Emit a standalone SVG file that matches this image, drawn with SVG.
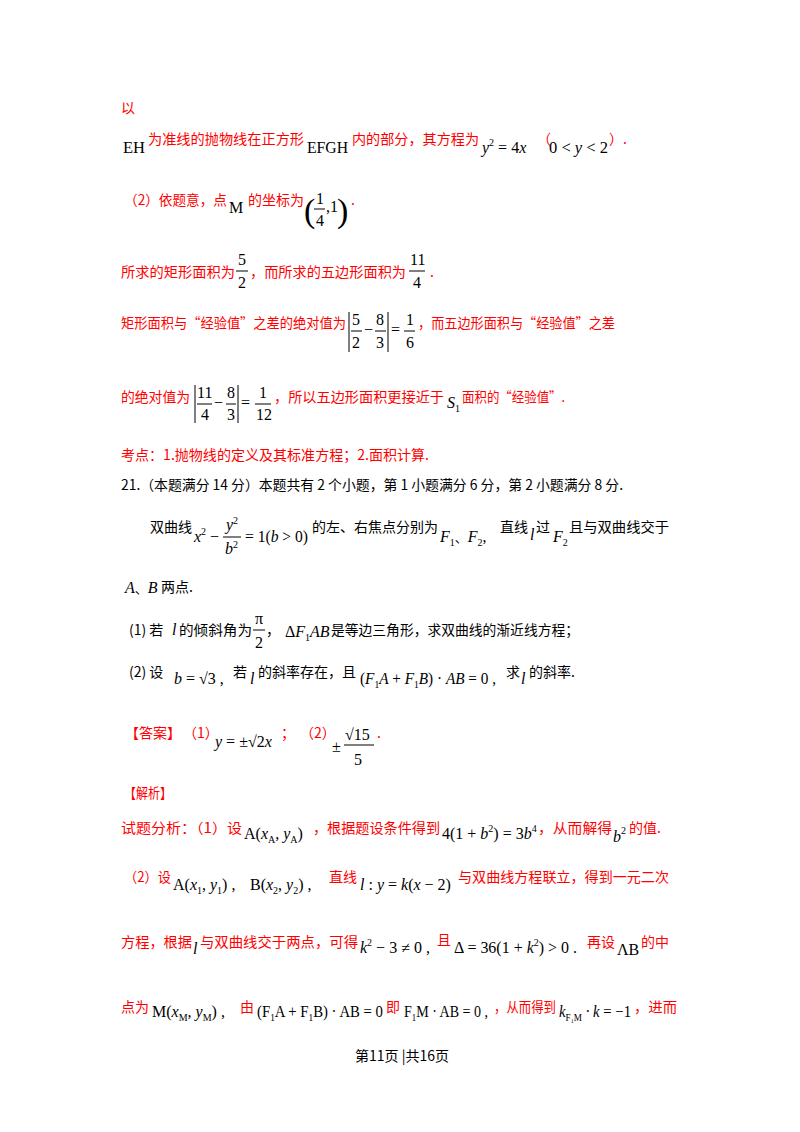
<svg xmlns="http://www.w3.org/2000/svg" width="800" height="1132" viewBox="0 0 800 1132">
<style>
.r{fill:#ff0000;font-family:"Noto Sans CJK SC","Noto Sans",sans-serif;font-size:14px}
.b{fill:#000;font-family:"Noto Sans CJK SC","Noto Sans",sans-serif;font-size:14px}
.m{fill:#000;font-family:"Liberation Serif",serif;font-size:16px}
.i{fill:#000;font-family:"Liberation Serif",serif;font-size:16px;font-style:italic}
.s{font-size:10px}
line{stroke:#000;stroke-width:1}
</style>
<rect width="800" height="1132" fill="#fff"/>
<text class="r" x="121" y="113">以</text>
<text class="m" x="123" y="153" textLength="22" lengthAdjust="spacingAndGlyphs">EH</text>
<text class="r" x="148" y="144" textLength="156" lengthAdjust="spacingAndGlyphs">为准线的抛物线在正方形</text>
<text class="m" x="307" y="153" textLength="41" lengthAdjust="spacingAndGlyphs">EFGH</text>
<text class="r" x="352" y="144" textLength="127" lengthAdjust="spacingAndGlyphs">内的部分，其方程为</text>
<text class="i" x="482" y="153">y<tspan class="s" dy="-7" font-style="normal">2</tspan><tspan dy="7" font-style="normal"> = 4</tspan>x</text>
<text class="r" x="537" y="144">（</text>
<text class="m" x="549" y="153" textLength="59" lengthAdjust="spacingAndGlyphs">0 &lt; <tspan font-style="italic">y</tspan> &lt; 2</text>
<text class="r" x="609" y="144">）.</text>

<text class="r" x="124" y="205" textLength="103" lengthAdjust="spacingAndGlyphs">（2）依题意，点</text>
<text class="m" x="229" y="213">M</text>
<text class="r" x="248" y="205" textLength="56" lengthAdjust="spacingAndGlyphs">的坐标为</text>
<text class="m" x="304" y="222" style="font-size:34px">(</text>
<text class="m" x="316" y="204">1</text><line x1="314" y1="209" x2="325" y2="209"/><text class="m" x="316" y="226">4</text>
<text class="m" x="326" y="212">,1</text>
<text class="m" x="337" y="222" style="font-size:34px">)</text>
<text class="r" x="351" y="205">.</text>

<text class="r" x="121" y="277" textLength="114" lengthAdjust="spacingAndGlyphs">所求的矩形面积为</text>
<text class="m" x="238" y="265">5</text><line x1="236" y1="271" x2="248" y2="271"/><text class="m" x="238" y="288">2</text>
<text class="r" x="250" y="277" textLength="156" lengthAdjust="spacingAndGlyphs">，而所求的五边形面积为</text>
<text class="m" x="410" y="265">11</text><line x1="409" y1="271" x2="425" y2="271"/><text class="m" x="413" y="288">4</text>
<text class="r" x="430" y="277">.</text>

<text class="r" x="121" y="328" textLength="225" lengthAdjust="spacingAndGlyphs">矩形面积与“经验值”之差的绝对值为</text>
<line x1="349" y1="312" x2="349" y2="352"/>
<text class="m" x="352" y="325">5</text><line x1="351" y1="331" x2="362" y2="331"/><text class="m" x="352" y="348">2</text>
<text class="m" x="364" y="335">−</text>
<text class="m" x="376" y="325">8</text><line x1="375" y1="331" x2="386" y2="331"/><text class="m" x="376" y="348">3</text>
<line x1="388" y1="312" x2="388" y2="352"/>
<text class="m" x="391" y="335">=</text>
<text class="m" x="406" y="325">1</text><line x1="404" y1="331" x2="415" y2="331"/><text class="m" x="406" y="348">6</text>
<text class="r" x="418" y="328" textLength="197" lengthAdjust="spacingAndGlyphs">，而五边形面积与“经验值”之差</text>

<text class="r" x="121" y="402" textLength="69" lengthAdjust="spacingAndGlyphs">的绝对值为</text>
<line x1="195" y1="385" x2="195" y2="423"/>
<text class="m" x="197" y="398">11</text><line x1="197" y1="404" x2="212" y2="404"/><text class="m" x="201" y="420">4</text>
<text class="m" x="214" y="408">−</text>
<text class="m" x="227" y="398">8</text><line x1="226" y1="404" x2="236" y2="404"/><text class="m" x="227" y="420">3</text>
<line x1="238" y1="385" x2="238" y2="423"/>
<text class="m" x="241" y="408">=</text>
<text class="m" x="259" y="398">1</text><line x1="255" y1="404" x2="271" y2="404"/><text class="m" x="256" y="420">12</text>
<text class="r" x="274" y="402" textLength="170" lengthAdjust="spacingAndGlyphs">，所以五边形面积更接近于</text>
<text class="i" x="447" y="408">S<tspan class="s" dy="4" font-style="normal">1</tspan></text>
<text class="r" x="462" y="402" textLength="103" lengthAdjust="spacingAndGlyphs">面积的“经验值”.</text>

<text class="r" x="121" y="460" textLength="308" lengthAdjust="spacingAndGlyphs">考点：1.抛物线的定义及其标准方程；2.面积计算.</text>
<text class="b" x="121" y="490" textLength="502" lengthAdjust="spacingAndGlyphs">21.（本题满分 14 分）本题共有 2 个小题，第 1 小题满分 6 分，第 2 小题满分 8 分.</text>

<text class="b" x="150" y="532" textLength="42" lengthAdjust="spacingAndGlyphs">双曲线</text>
<text class="i" x="194" y="542">x<tspan class="s" dy="-7" font-style="normal">2</tspan><tspan dy="7" font-style="normal"> −</tspan></text>
<text class="i" x="226" y="530">y<tspan class="s" dy="-6" font-style="normal">2</tspan></text><line x1="223" y1="537" x2="241" y2="537"/><text class="i" x="225" y="554">b<tspan class="s" dy="-6" font-style="normal">2</tspan></text>
<text class="m" x="245" y="542" textLength="63" lengthAdjust="spacingAndGlyphs">= 1(<tspan font-style="italic">b</tspan> &gt; 0)</text>
<text class="b" x="312" y="532" textLength="126" lengthAdjust="spacingAndGlyphs">的左、右焦点分别为</text>
<text class="i" x="440" y="542">F<tspan class="s" dy="4" font-style="normal">1</tspan><tspan dy="-4" font-style="normal" font-family="Noto Sans CJK SC" font-size="13">、</tspan>F<tspan class="s" dy="4" font-style="normal">2</tspan><tspan dy="-4" font-style="normal">,</tspan></text>
<text class="b" x="500" y="532">直线</text>
<text class="i" x="530" y="540">l</text>
<text class="b" x="536" y="532">过</text>
<text class="i" x="553" y="542">F<tspan class="s" dy="4" font-style="normal">2</tspan></text>
<text class="b" x="569" y="532" textLength="100" lengthAdjust="spacingAndGlyphs">且与双曲线交于</text>

<text class="i" x="125" y="593">A<tspan font-style="normal" font-family="Noto Sans CJK SC" font-size="13">、</tspan>B</text>
<text class="b" x="161" y="592">两点.</text>

<text class="b" x="129" y="635">(1) 若</text>
<text class="i" x="172" y="635">l</text>
<text class="b" x="179" y="635" textLength="73" lengthAdjust="spacingAndGlyphs">的倾斜角为</text>
<text class="m" x="255" y="624">π</text><line x1="253" y1="630" x2="265" y2="630"/><text class="m" x="255" y="648">2</text>
<text class="b" x="266" y="635">，</text>
<text class="m" x="285" y="637">Δ<tspan font-style="italic">F</tspan><tspan class="s" dy="4">1</tspan><tspan dy="-4" font-style="italic">AB</tspan></text>
<text class="b" x="331" y="635" textLength="248" lengthAdjust="spacingAndGlyphs">是等边三角形，求双曲线的渐近线方程；</text>

<text class="b" x="129" y="677">(2) 设</text>
<text class="i" x="174" y="684">b<tspan font-style="normal"> = √3 ,</tspan></text>
<text class="b" x="233" y="677">若</text>
<text class="i" x="250" y="684">l</text>
<text class="b" x="258" y="677" textLength="98" lengthAdjust="spacingAndGlyphs">的斜率存在，且</text>
<text class="m" x="360" y="684" textLength="136" lengthAdjust="spacingAndGlyphs">(<tspan font-style="italic">F</tspan><tspan class="s" dy="4">1</tspan><tspan dy="-4" font-style="italic">A</tspan> + <tspan font-style="italic">F</tspan><tspan class="s" dy="4">1</tspan><tspan dy="-4" font-style="italic">B</tspan>) · <tspan font-style="italic">AB</tspan> = 0 ,</text>
<text class="b" x="506" y="677">求</text>
<text class="i" x="521" y="684">l</text>
<text class="b" x="529" y="677">的斜率.</text>

<text class="r" x="125" y="738" textLength="56" lengthAdjust="spacingAndGlyphs">【答案】</text>
<text class="r" x="183" y="738">（1）</text>
<text class="i" x="215" y="747">y<tspan font-style="normal"> = ±√2</tspan>x</text>
<text class="r" x="281" y="738">；</text>
<text class="r" x="300" y="738">（2）</text>
<text class="m" x="332" y="752">±</text>
<text class="m" x="345" y="740">√15</text><line x1="344" y1="745" x2="374" y2="745"/><text class="m" x="354" y="765">5</text>
<text class="r" x="377" y="738">.</text>

<text class="r" x="124" y="798" textLength="48" lengthAdjust="spacingAndGlyphs">【解析】</text>

<text class="r" x="121" y="833" textLength="121" lengthAdjust="spacingAndGlyphs">试题分析：（1）设</text>
<text class="m" x="244" y="839">A(<tspan font-style="italic">x</tspan><tspan class="s" dy="4">A</tspan><tspan dy="-4">, </tspan><tspan font-style="italic">y</tspan><tspan class="s" dy="4">A</tspan><tspan dy="-4">)</tspan></text>
<text class="r" x="313" y="833" textLength="127" lengthAdjust="spacingAndGlyphs">，根据题设条件得到</text>
<text class="m" x="442" y="839">4(1 + <tspan font-style="italic">b</tspan><tspan class="s" dy="-7">2</tspan><tspan dy="7">) = 3</tspan><tspan font-style="italic">b</tspan><tspan class="s" dy="-7">4</tspan></text>
<text class="r" x="538" y="833" textLength="74" lengthAdjust="spacingAndGlyphs">，从而解得</text>
<text class="i" x="613" y="842">b<tspan class="s" dy="-8" font-style="normal">2</tspan></text>
<text class="r" x="629" y="833">的值.</text>

<text class="r" x="124" y="882" textLength="47" lengthAdjust="spacingAndGlyphs">（2）设</text>
<text class="m" x="173" y="890">A(<tspan font-style="italic">x</tspan><tspan class="s" dy="4">1</tspan><tspan dy="-4">, </tspan><tspan font-style="italic">y</tspan><tspan class="s" dy="4">1</tspan><tspan dy="-4">) ,</tspan></text>
<text class="m" x="250" y="890">B(<tspan font-style="italic">x</tspan><tspan class="s" dy="4">2</tspan><tspan dy="-4">, </tspan><tspan font-style="italic">y</tspan><tspan class="s" dy="4">2</tspan><tspan dy="-4">) ,</tspan></text>
<text class="r" x="329" y="882">直线</text>
<text class="i" x="360" y="890">l<tspan font-style="normal"> : </tspan>y<tspan font-style="normal"> = </tspan>k<tspan font-style="normal">(</tspan>x<tspan font-style="normal"> − 2)</tspan></text>
<text class="r" x="458" y="882" textLength="211" lengthAdjust="spacingAndGlyphs">与双曲线方程联立，得到一元二次</text>

<text class="r" x="121" y="947" textLength="71" lengthAdjust="spacingAndGlyphs">方程，根据</text>
<text class="i" x="193" y="954">l</text>
<text class="r" x="200" y="947" textLength="158" lengthAdjust="spacingAndGlyphs">与双曲线交于两点，可得</text>
<text class="i" x="360" y="953">k<tspan class="s" dy="-7" font-style="normal">2</tspan><tspan dy="7" font-style="normal"> − 3 ≠ 0 ,</tspan></text>
<text class="r" x="437" y="945">且</text>
<text class="m" x="454" y="953" textLength="123" lengthAdjust="spacingAndGlyphs">Δ = 36(1 + <tspan font-style="italic">k</tspan><tspan class="s" dy="-7">2</tspan><tspan dy="7">) &gt; 0 .</tspan></text>
<text class="r" x="587" y="947">再设</text>
<text class="m" x="617" y="955">ΛB</text>
<text class="r" x="641" y="947">的中</text>

<text class="r" x="121" y="1012">点为</text>
<text class="m" x="152" y="1017">M(<tspan font-style="italic">x</tspan><tspan class="s" dy="4">M</tspan><tspan dy="-4">, </tspan><tspan font-style="italic">y</tspan><tspan class="s" dy="4">M</tspan><tspan dy="-4">) ,</tspan></text>
<text class="r" x="240" y="1012">由</text>
<text class="m" x="257" y="1017" textLength="126" lengthAdjust="spacingAndGlyphs">(F<tspan class="s" dy="4">1</tspan><tspan dy="-4">A + F</tspan><tspan class="s" dy="4">1</tspan><tspan dy="-4">B) · AB = 0</tspan></text>
<text class="r" x="386" y="1012">即</text>
<text class="m" x="404" y="1017" textLength="84" lengthAdjust="spacingAndGlyphs">F<tspan class="s" dy="4">1</tspan><tspan dy="-4">M · AB = 0 ,</tspan></text>
<text class="r" x="494" y="1012" textLength="62" lengthAdjust="spacingAndGlyphs">，从而得到</text>
<text class="i" x="559" y="1017" textLength="72" lengthAdjust="spacingAndGlyphs">k<tspan class="s" dy="4" font-style="normal">F₁M</tspan><tspan dy="-4"> · k</tspan><tspan font-style="normal"> = −1</tspan></text>
<text class="r" x="634" y="1012" textLength="43" lengthAdjust="spacingAndGlyphs">，进而</text>

<text class="b" x="402" y="1061" text-anchor="middle">第11页 |共16页</text>
</svg>
